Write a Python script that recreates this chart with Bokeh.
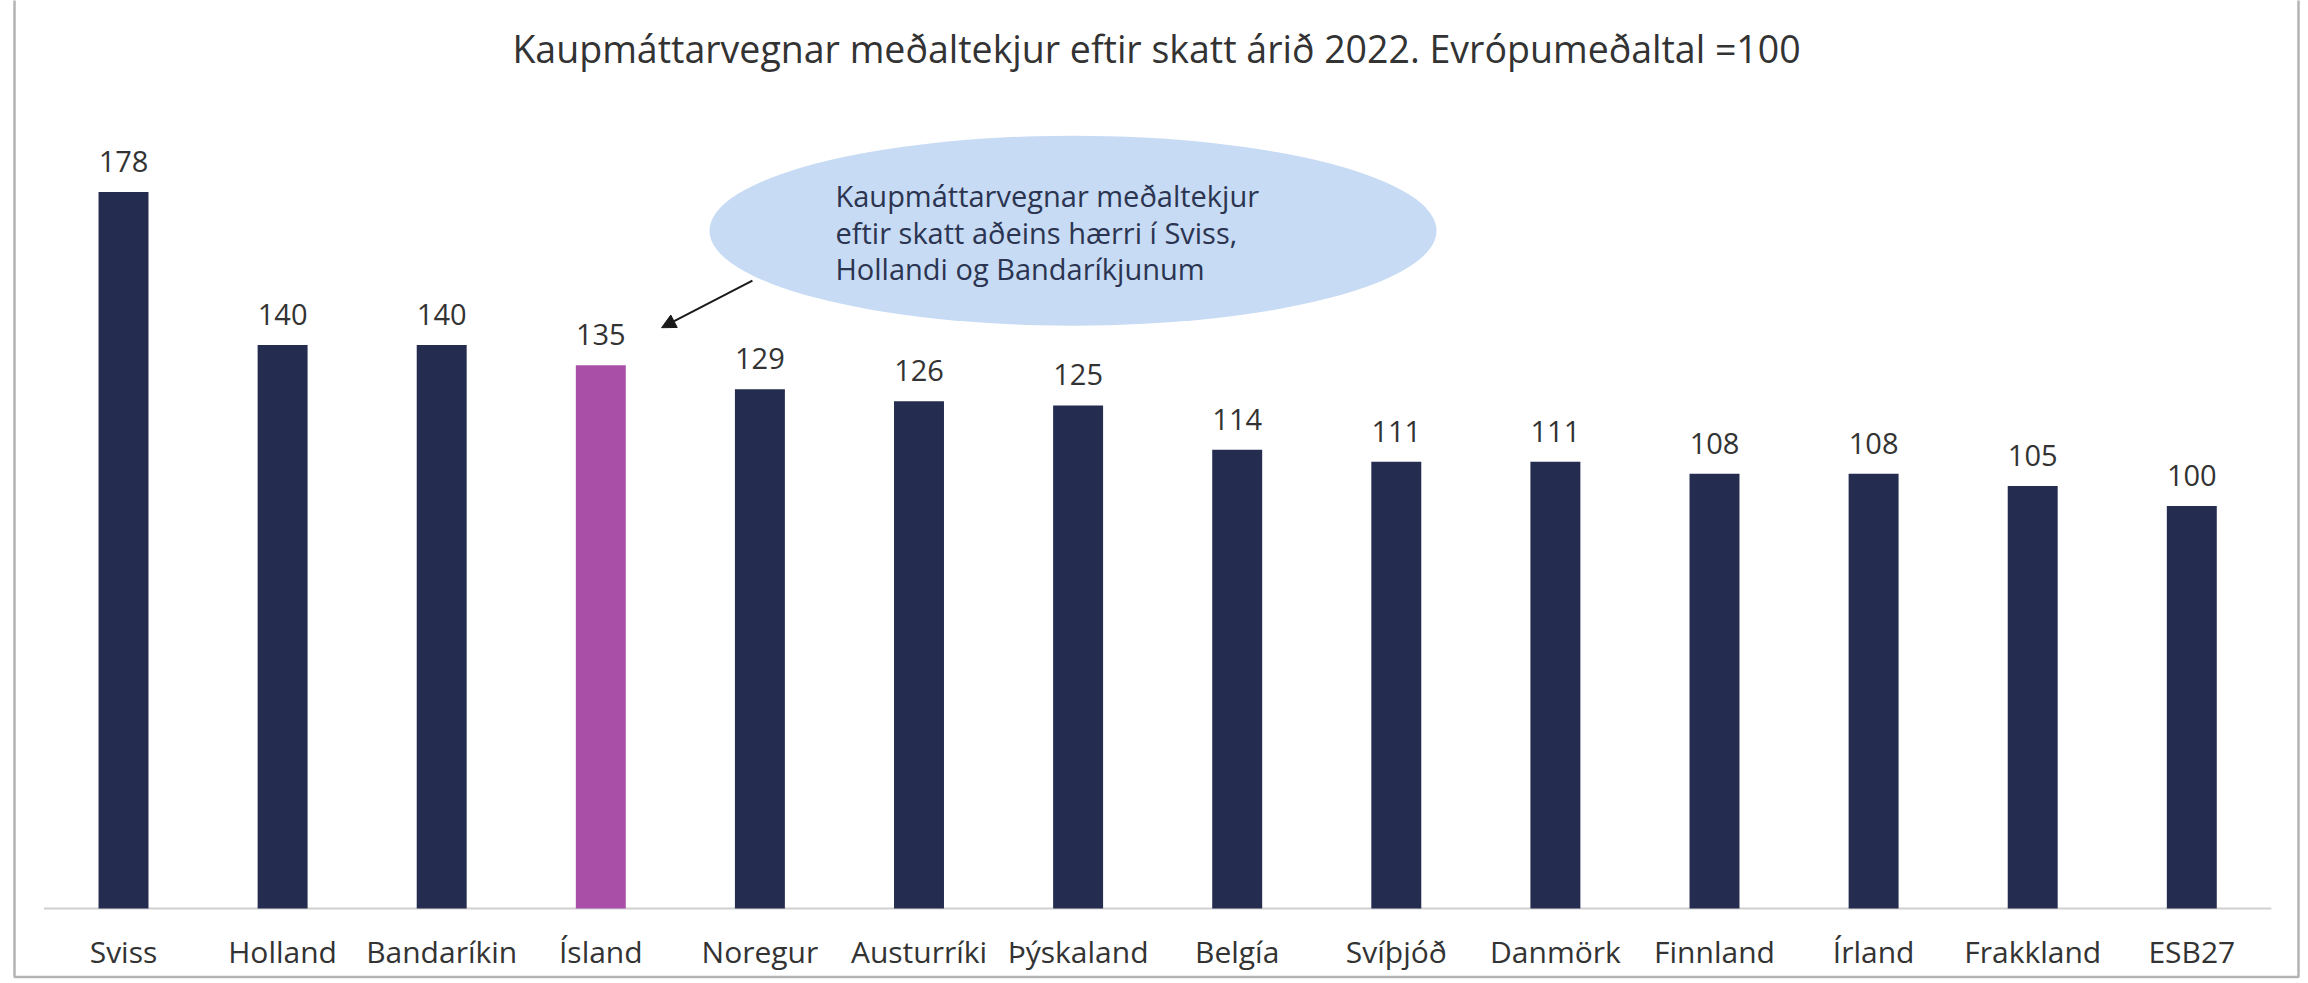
from bokeh.plotting import figure
from bokeh.models import (Range1d, ColumnDataSource, LabelSet, Arrow, NormalHead,
                          BoxAnnotation, FixedTicker)
from bokeh.core.properties import value
from bokeh.embed import file_html
from bokeh.resources import INLINE

categories = ["Sviss", "Holland", "Bandaríkin", "Ísland", "Noregur", "Austurríki",
              "Þýskaland", "Belgía", "Svíþjóð", "Danmörk", "Finnland", "Írland",
              "Frakkland", "ESB27"]
values = [178, 140, 140, 135, 129, 126, 125, 114, 111, 111, 108, 108, 105, 100]
highlight = "Ísland"
title_text = "Kaupmáttarvegnar meðaltekjur eftir skatt árið 2022. Evrópumeðaltal =100"
note_lines = ["Kaupmáttarvegnar meðaltekjur",
              "eftir skatt aðeins hærri í Sviss,",
              "Hollandi og Bandaríkjunum"]

FONT = "Open Sans"
NAVY = "#242c4f"
PURPLE = "#a94fa8"
TXT = "#333333"

n = len(categories)
xs = list(range(n))
colors = [PURPLE if c == highlight else NAVY for c in categories]
src = ColumnDataSource(dict(x=xs, val=values, col=colors,
                            lab=[str(v) for v in values]))

W, H = 2306, 980
PX_X = 159.1          # pixels per category
PX_Y = 4.025          # pixels per index unit
X0_PX = 123           # pixel centre of first category
BASE_PX = 908         # pixel row of the zero line
x_start = -X0_PX / PX_X
y_start = -(H - BASE_PX) / PX_Y

p = figure(x_range=Range1d(x_start, x_start + W / PX_X),
           y_range=Range1d(y_start, y_start + H / PX_Y),
           width=W, height=H, output_backend="svg", toolbar_location=None,
           y_axis_location=None, min_border=0)
p.outline_line_color = None
p.xgrid.visible = False
p.ygrid.visible = False
p.background_fill_color = "white"
p.border_fill_color = "white"

# outer frame
p.add_layout(BoxAnnotation(left=14, right=2298, top=3.5, bottom=1010,
                           left_units="screen", right_units="screen",
                           top_units="screen", bottom_units="screen",
                           fill_alpha=0, line_color="#b3b3b3", line_alpha=1.0,
                           line_width=2.5))

# baseline across the category span
p.segment(x0=[xs[0] - 0.5], x1=[xs[-1] + 0.5], y0=[0], y1=[0],
          line_color="#d0d0d0", line_width=2)

p.vbar(x="x", top="val", width=0.314, color="col", source=src, line_color=None)

p.add_layout(LabelSet(x="x", y="val", text="lab", source=src, y_offset=20,
                      text_align="center", text_baseline="alphabetic",
                      text_font=value(FONT), text_font_size="29px", text_color=TXT))

# title
p.text(x=[6.493], y=[213.7], text=[title_text], text_font=value(FONT),
       text_font_size="37.5px", text_color=TXT, text_align="center",
       text_baseline="middle")

# callout ellipse
p.ellipse(x=[5.968], y=[168.4], width=[4.57], height=[47.2],
          fill_color="#c7dbf4", line_color=None)
p.text(x=[4.475] * 3, y=[177.1, 168.0, 159.0], text=note_lines,
       text_font=value(FONT), text_font_size="29px", text_color="#2b3450",
       text_align="left", text_baseline="middle")

p.add_layout(Arrow(end=NormalHead(size=14, fill_color="#1a1a1a", line_color="#1a1a1a"),
                   x_start=3.953, y_start=156.0, x_end=3.382, y_end=144.3,
                   line_width=2, line_color="#1a1a1a"))

ax = p.xaxis[0]
ax.fixed_location = 0
ax.ticker = FixedTicker(ticks=xs)
ax.major_label_overrides = {i: c for i, c in zip(xs, categories)}
ax.axis_line_color = None
ax.major_tick_line_color = None
ax.minor_tick_line_color = None
ax.major_tick_out = 0
ax.major_tick_in = 0
ax.major_label_standoff = 22
ax.major_label_text_font = FONT
ax.major_label_text_font_size = "30px"
ax.major_label_text_color = TXT

open("out.html", "w").write(file_html(p, INLINE))
